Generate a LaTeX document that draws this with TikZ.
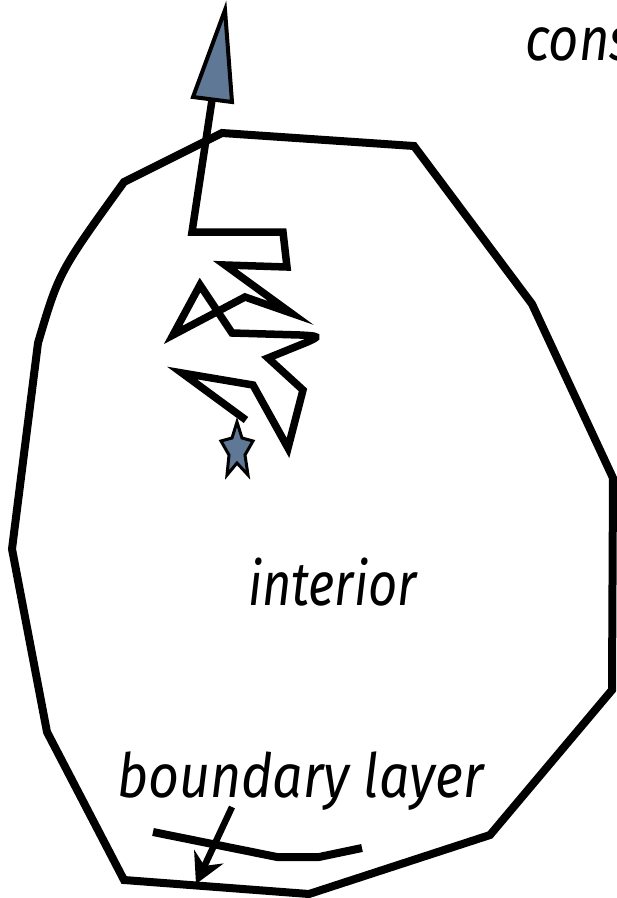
\documentclass[tikz,border=0pt]{standalone}
\usepackage{fontspec}
\usepackage{graphicx}
\setmainfont{Fira Sans}
\usetikzlibrary{arrows.meta}
\definecolor{steel}{HTML}{5F7896}
\begin{document}
\begin{tikzpicture}[x=1pt,y=-1pt,line join=miter,
  outline/.style={line width=8pt},
  walk/.style={line width=7.5pt},
  marker/.style={fill=steel, draw=black, line width=3.5pt},
  lbl/.style={font=\fontsize{61}{61}\selectfont\itshape, anchor=base west, inner sep=0pt}]
\useasboundingbox (0,0) rectangle (617,898);
\clip (0,0) rectangle (617,898);
% outer region
\draw[outline] (222,133) -- (414,146) -- (532,304) -- (613,478) -- (612,690) -- (490,835)
  -- (309,894) -- (124,880) -- (47,732) -- (12,549) -- (38,343) .. controls (59,272) .. (124,182) -- cycle;
% random walk
\draw[walk] (246,420) -- (182,373) -- (253,385) -- (288,448) -- (303,390) -- (268,358)
  -- (305,343) .. controls (322,336) and (318,336) .. (300,335) -- (232,333) -- (200,285)
  -- (173,335) -- (245,297) -- (291,313) -- (225,265) -- (287,267) -- (283,232) -- (192,232) -- (212,100);
\filldraw[marker, line width=4pt] (225,10) -- (232,102) -- (193,97) -- cycle;
\filldraw[marker, line width=3pt] (237,422) -- (242,438) -- (253,441) -- (245,455) -- (248,475)
  -- (237,463) -- (227,475) -- (229,455) -- (221,441) -- (232,438) -- cycle;
% boundary layer
\draw[outline] (153,832) -- (277,857) -- (319,857) -- (362,848);
\coordinate (bltail) at (232,807);
\coordinate (blhead) at (196,884);
\draw[line width=6.5pt, -{Stealth[length=30pt, width=32pt, inset=10pt]}] (bltail) -- (blhead);
% labels
\node[lbl] (cons) at (525,60) {\scalebox{0.86}[1]{cons}};
\node[lbl] (interior) at (248,605) {\scalebox{0.83}[1]{interior}};
\node[lbl] (bl) at (117,797) {\scalebox{0.88}[1]{boundary layer}};
\end{tikzpicture}
\end{document}
